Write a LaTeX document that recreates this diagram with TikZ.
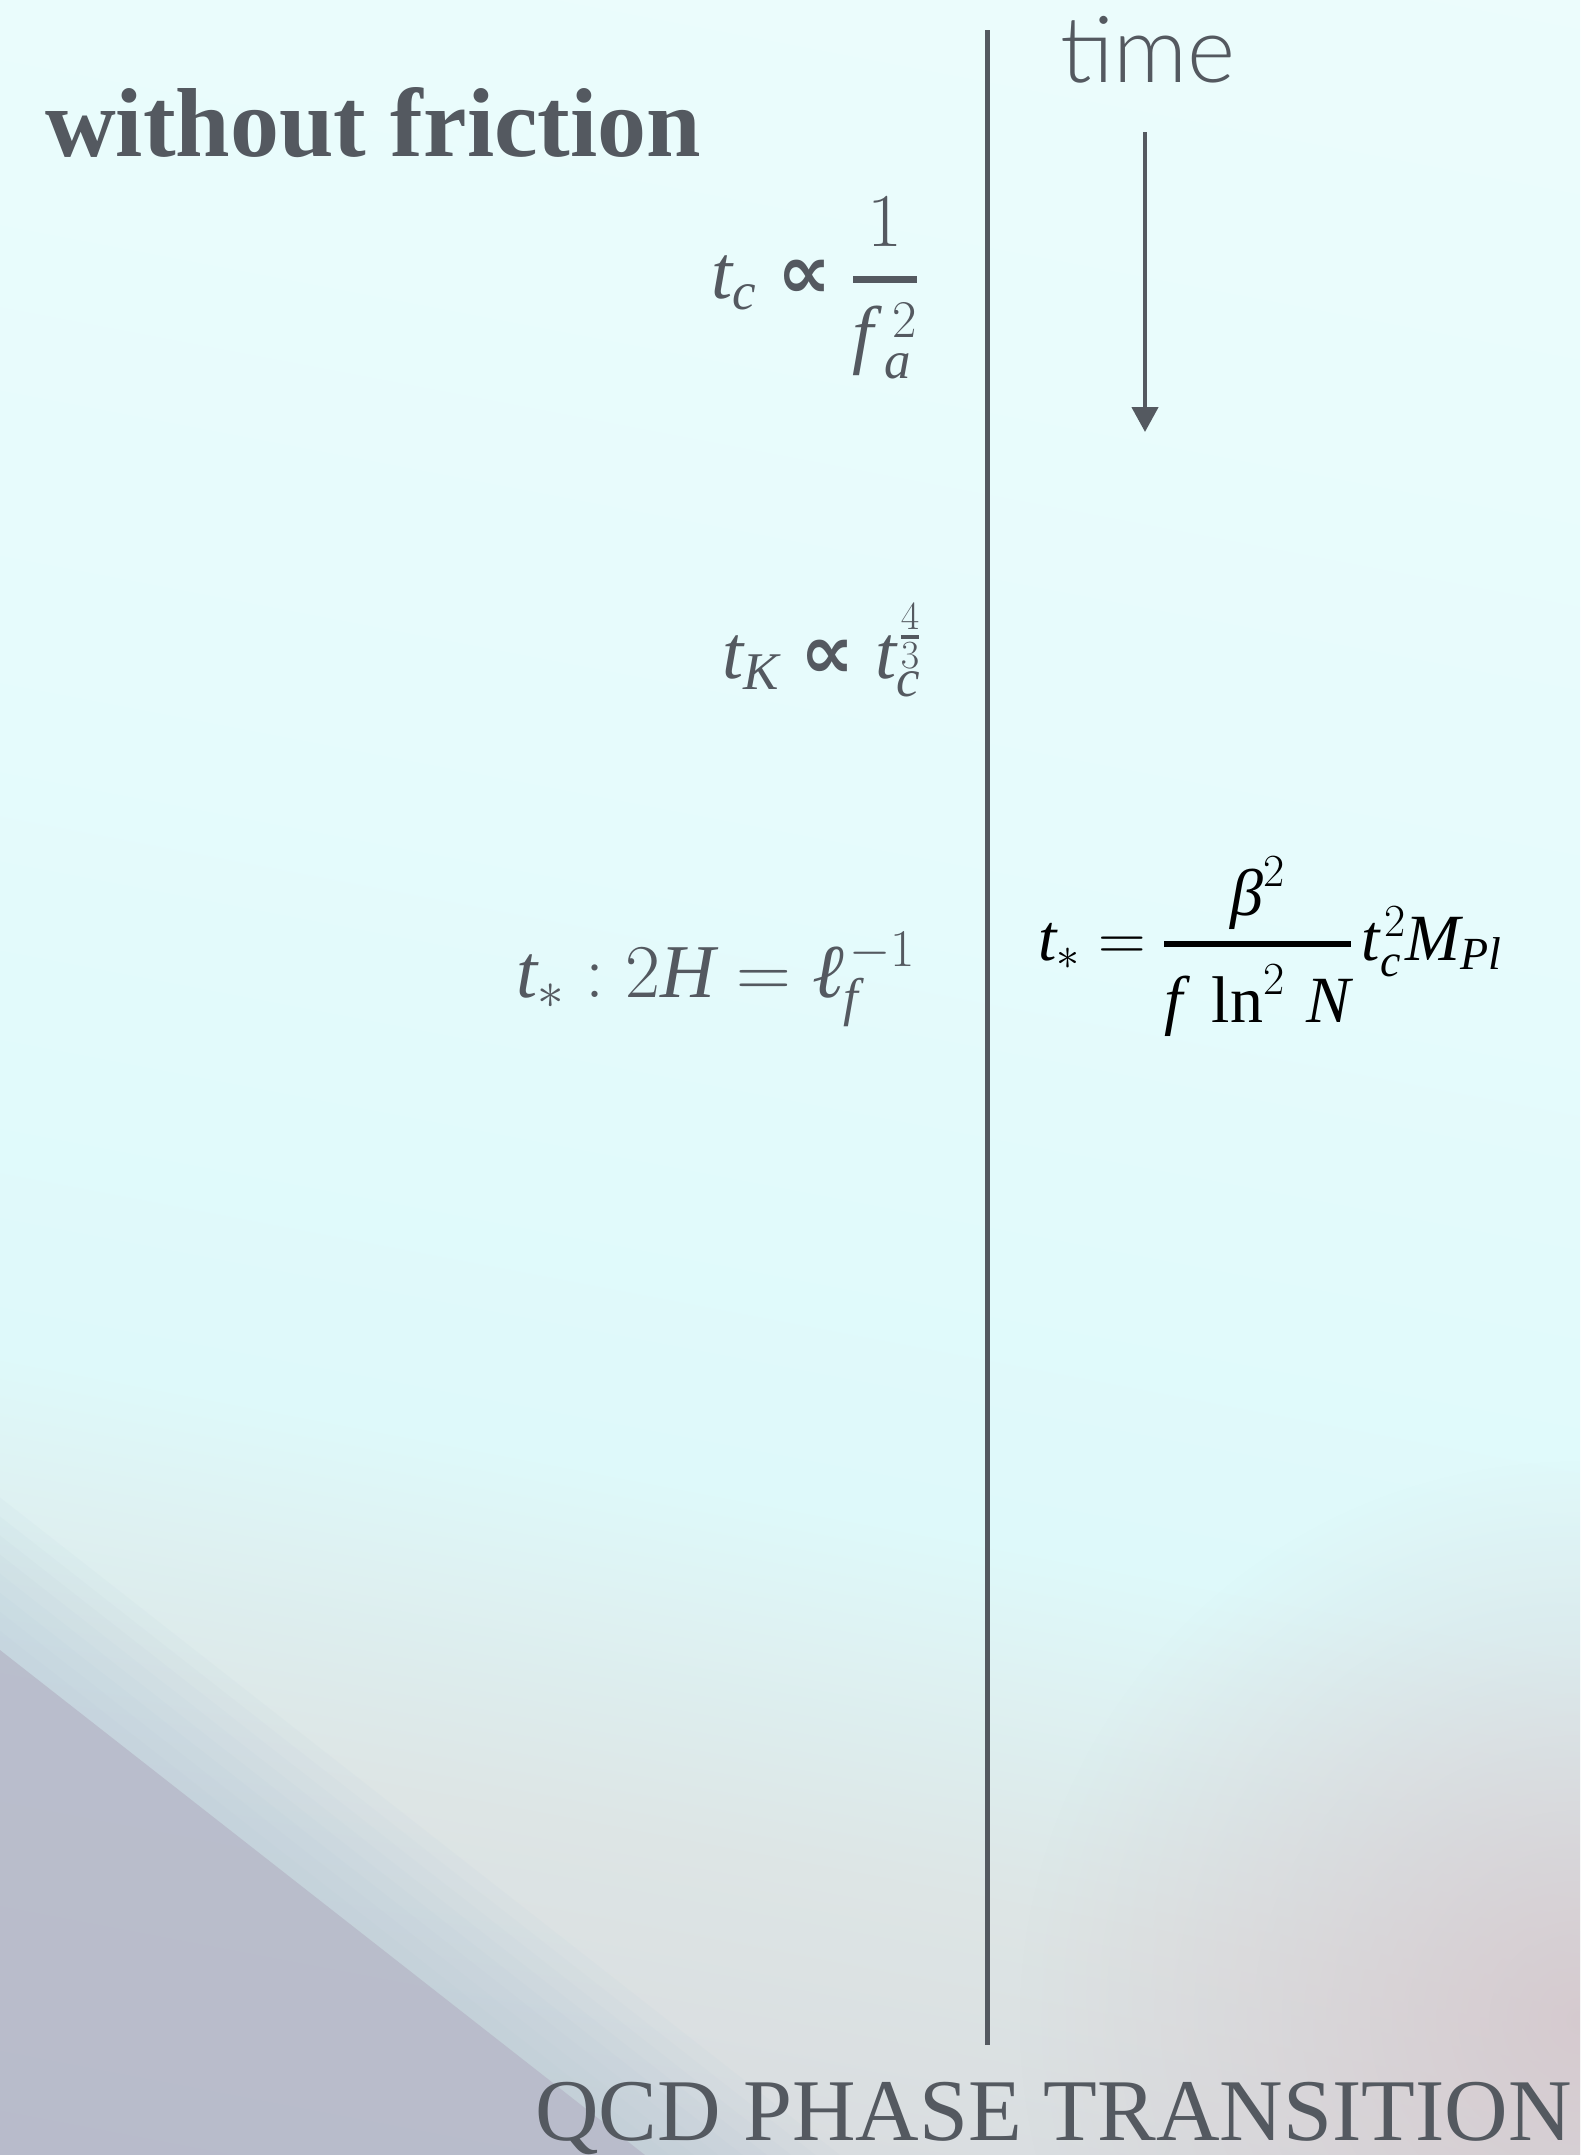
\documentclass[tikz,border=0pt]{standalone}
\usepackage{fix-cm}
\usepackage{fontspec}
\setmainfont{Liberation Serif}
\newfontfamily\djv{DejaVu Sans}
\DeclareSymbolFont{letters}{TU}{\rmdefault}{m}{it}
\DeclareSymbolFont{operators}{TU}{\rmdefault}{m}{n}
\DeclareSymbolFont{cmops}{OT1}{cmr}{m}{n}
\DeclareMathSymbol{=}{\mathrel}{cmops}{"3D}
\DeclareMathSizes{76}{76}{53}{40}
\DeclareMathSizes{66}{66}{46}{34}
\setlength{\nulldelimiterspace}{0pt}
\IfFontExistsTF{Lato Light}{\newfontfamily\thinfont{Lato Light}}{\newfontfamily\thinfont{Lato}}
\usetikzlibrary{arrows.meta,fadings}
\definecolor{ink}{HTML}{545960}
\definecolor{bgA}{HTML}{F0FDFC}
\definecolor{bgB}{HTML}{EEFDFC}
\definecolor{bgC}{HTML}{E6FBFC}
\definecolor{bgD}{HTML}{DEF9FA}
\definecolor{bgE}{HTML}{DDE5E5}
\definecolor{bgF}{HTML}{D7D8DD}
\definecolor{bgG}{HTML}{D2CCD2}
\definecolor{bgH}{HTML}{CCC6CE}
\definecolor{bgI}{HTML}{C8C3CC}
\definecolor{darkcorner}{HTML}{B5B5C6}
\definecolor{bandblue}{HTML}{AFC6D8}
\definecolor{pinkish}{HTML}{D4C4CA}
\pgfdeclareverticalshading{bgshade}{100bp}{color(0bp)=(bgI); color(11.8bp)=(bgH); color(25bp)=(bgG); color(32.4bp)=(bgF); color(38.8bp)=(bgE); color(44.1bp)=(bgD); color(54.4bp)=(bgC); color(73.5bp)=(bgB); color(100bp)=(bgA)}
\tikzfading[name=softspot, inner color=transparent!0, outer color=transparent!100]
\newcommand\itx[1]{\hbox{\itshape #1}}
\newcommand\propsym{\mathrel{\hbox{\djv\bfseries ∝}}}
\tikzset{
  grayeq/.style={text=ink, inner sep=0pt, font=\fontsize{76}{80}\selectfont},
  blackeq/.style={text=black, inner sep=0pt, font=\fontsize{66}{70}\selectfont},
  axisline/.style={draw=ink, line width=5pt},
  timearrow/.style={draw=ink, line width=4.5pt, -{Triangle[length=25pt,width=26pt]}}
}
\begin{document}
\begin{tikzpicture}[x=1pt,y=-1pt]
\useasboundingbox (0,0) rectangle (1580,2155);
\begin{scope}
\clip (0,0) rectangle (1580,2155);
\begin{scope}[transform canvas={rotate around={-10.75:(790,1500)}}]
\shade[overlay, shading=bgshade] (-600,-600) rectangle (2180,2800);
\end{scope}
\fill[pinkish, path fading=softspot, opacity=0.8] (1580,2020) circle (560);
\foreach \s in {15,30,45,60,75,90,105,120}{
  \fill[bandblue, opacity=0.07] ({0.617*\s-1290},{640-0.788*\s}) -- ({1935+0.617*\s},{3165-0.788*\s}) -- (-3000,5000) -- cycle;
}
\fill[darkcorner, opacity=0.72] (-1290,640) -- (1935,3165) -- (-3000,5000) -- cycle;
\end{scope}
\node[text=ink, anchor=base west, inner sep=0pt, font=\bfseries\fontsize{98}{100}\selectfont] (title) at (45,156) {without friction};
\node[text=ink, anchor=base west, inner sep=0pt, font=\thinfont\fontsize{92}{96}\selectfont] (time) at (1060,82) {time};
\node[text=ink, anchor=base east, inner sep=0pt, font=\fontsize{88}{90}\selectfont] (qcd) at (1572,2140) {QCD PHASE TRANSITION};
\node[grayeq, anchor=base east] (tc) at (917,298) {$t_c \propsym {\displaystyle{1\above 7pt f_{\kern10pt a}^{\kern18pt 2}}}$};
\node[grayeq, anchor=base east] (tk) at (921,678) {$t_K \propsym t_c^{\kern4pt{4\above 4pt 3}}$};
\node[grayeq, anchor=base east] (ts) at (916,997) {$t_* : 2H = \itx{ℓ}_f^{\kern6pt-1}$};
\node[blackeq, anchor=base west] (tsr) at (1038,960) {$t_* = {\displaystyle{\smash{\itx{β}^{2}}\above 6pt f\;\ln^2\,N}}\, t_c^{\kern4pt 2} M_{Pl}$};
\coordinate (ltop) at (987,30);
\coordinate (lbot) at (987,2045);
\draw[axisline] (ltop) -- (lbot);
\coordinate (atop) at (1145,132);
\coordinate (abot) at (1145,432);
\draw[timearrow] (atop) -- (abot);
\end{tikzpicture}
\end{document}
